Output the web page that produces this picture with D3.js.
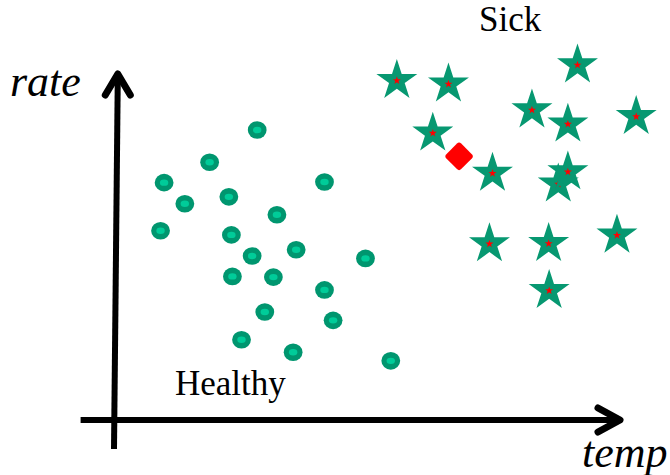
<!DOCTYPE html>
<html>
<head>
<meta charset="utf-8">
<script src="https://cdn.jsdelivr.net/npm/d3@7"></script>
<style>
  html, body { margin: 0; padding: 0; background: #fff; }
  svg { display: block; }
</style>
</head>
<body>
<div id="chart"></div>
<script>
// Data (temp / rate in arbitrary units 0-100)
const healthyTemp = [28.3, 18.9, 9.9, 41.6, 14.0, 22.7, 32.2, 9.2, 23.2, 27.3,
                     36.0, 49.7, 23.4, 31.5, 41.6, 29.8, 43.3, 25.2, 35.4, 54.7];
const healthyRate = [83.8, 74.5, 68.6, 68.8, 62.5, 64.5, 59.3, 54.7, 53.5, 47.4,
                     49.2, 46.7, 41.5, 41.3, 37.6, 31.2, 28.8, 23.2, 19.6, 17.1];

const sickTemp = [55.9, 66.1, 91.6, 82.6, 89.7, 103.2, 63.0, 74.8, 87.8, 89.7, 74.2, 85.9, 99.4, 86.0];
const sickRate = [98.1, 97.1, 102.6, 89.6, 85.5, 87.7, 82.9, 71.3, 68.2, 71.7, 50.9, 51.0, 53.4, 37.4];

const queryTemp = [68.2];
const queryRate = [76.2];

const labels = { x: "temp", y: "rate", healthy: "Healthy", sick: "Sick" };

// Constants
const width = 670,
    height = 475;

const svg = d3.select("#chart")
    .append("svg")
    .attr("width", width)
    .attr("height", height);

const x = d3.scaleLinear().domain([0, 100]).range([114, 620]);
const y = d3.scaleLinear().domain([0, 100]).range([420, 74]);

// Axes with arrow heads
const axes = svg.append("g")
    .attr("stroke", "#000")
    .attr("fill", "none")
    .attr("stroke-width", 6);

// x axis
axes.append("line")
    .attr("x1", x(-6.6)).attr("y1", y(0))
    .attr("x2", x(100) - 2).attr("y2", y(0));
axes.append("path")
    .attr("stroke-width", 7)
    .attr("stroke-linecap", "round")
    .attr("stroke-linejoin", "round")
    .attr("d", d3.line()([[x(100) - 22, y(0) - 12], [x(100), y(0)], [x(100) - 22, y(0) + 12]]));

// y axis (slightly leaning, as drawn)
axes.append("line")
    .attr("x1", x(0)).attr("y1", y(-8.4))
    .attr("x2", x(0.75)).attr("y2", y(100) + 2);
axes.append("path")
    .attr("stroke-width", 7)
    .attr("stroke-linecap", "round")
    .attr("stroke-linejoin", "round")
    .attr("d", d3.line()([[x(0.75) - 12.5, y(100) + 21], [x(0.75), y(100)], [x(0.75) + 12.5, y(100) + 21]]));

// Healthy points: dark ring with light centre
const healthy = healthyTemp.map((t, i) => ({ t, r: healthyRate[i] }));
const dots = svg.append("g").selectAll("g")
    .data(healthy)
    .join("g")
    .attr("transform", d => `translate(${x(d.t)},${y(d.r)})`);
dots.append("ellipse")
    .attr("rx", 9.4).attr("ry", 8.8)
    .attr("fill", "#00966f");
dots.append("ellipse")
    .attr("rx", 4.2).attr("ry", 3.2)
    .attr("fill", "#00cc99");

// Sick points: green star with small red star
const sick = sickTemp.map((t, i) => ({ t, r: sickRate[i] }));
const bigStar = d3.symbol(d3.symbolStar, 520);
const smallStar = d3.symbol(d3.symbolStar, 20);
const stars = svg.append("g").selectAll("g")
    .data(sick)
    .join("g")
    .attr("transform", d => `translate(${x(d.t)},${y(d.r)})`);
stars.append("path")
    .attr("d", bigStar)
    .attr("fill", "#079871");
stars.append("path")
    .attr("d", smallStar)
    .attr("fill", "#ff0000");

// Query point: red diamond
svg.append("g").selectAll("rect")
    .data(queryTemp.map((t, i) => ({ t, r: queryRate[i] })))
    .join("rect")
    .attr("x", -10.5).attr("y", -10.5)
    .attr("width", 21).attr("height", 21)
    .attr("rx", 3).attr("ry", 3)
    .attr("fill", "#ff0000")
    .attr("transform", d => `translate(${x(d.t)},${y(d.r)}) rotate(45)`);

// Text labels
const serif = "'Liberation Serif', 'Times New Roman', serif";
svg.append("text")
    .attr("x", 10).attr("y", 96)
    .style("font-family", serif)
    .style("font-style", "italic")
    .style("font-size", "44px")
    .text(labels.y);
svg.append("text")
    .attr("x", 582).attr("y", 467)
    .style("font-family", serif)
    .style("font-style", "italic")
    .style("font-size", "44px")
    .text(labels.x);
svg.append("text")
    .attr("x", 175).attr("y", 395)
    .style("font-family", serif)
    .style("font-size", "35px")
    .text(labels.healthy);
svg.append("text")
    .attr("x", 479).attr("y", 31)
    .style("font-family", serif)
    .style("font-size", "35px")
    .text(labels.sick);
</script>
</body>
</html>
